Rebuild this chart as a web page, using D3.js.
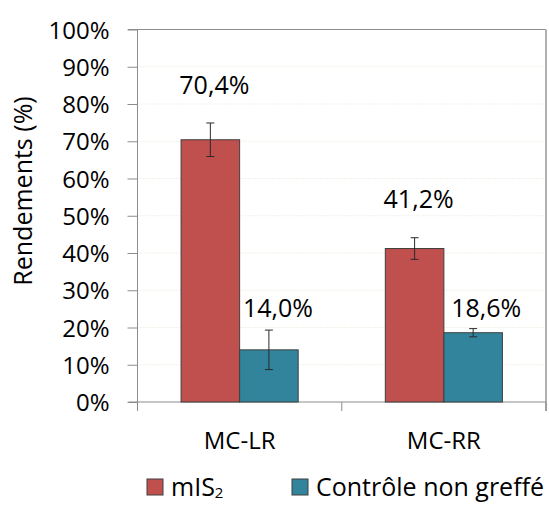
<!DOCTYPE html>
<html><head><meta charset="utf-8">
<script src="https://cdn.jsdelivr.net/npm/d3@7"></script>
<style>
body{margin:0;background:#fff;}
text{font-family:"Open Sans",sans-serif;fill:#000;}
</style></head>
<body><svg id="c" width="549" height="505"></svg>
<script>
const categories = ["MC-LR", "MC-RR"];
const series = ["mIS2", "Contrôle non greffé"];
const seriesLabels = ["mIS", "Contrôle non greffé"];
const valuesMIS = [70.4, 41.2];
const valuesCtrl = [14.0, 18.6];
const errMIS = [4.5, 2.9];
const errCtrl = [5.3, 1.1];
const labelsMIS = ["70,4%", "41,2%"];
const labelsCtrl = ["14,0%", "18,6%"];
const yTicks = [0,10,20,30,40,50,60,70,80,90,100];
// manual label anchor (value in %, horizontal shift px) as in original
const labelAtMIS = [82.7, 52.1];
const labelAtCtrl = [22.9, 22.9];
const labelShiftMIS = [4, 4];
const labelShiftCtrl = [9, 13];
const colors = ["#c0504d", "#31849b"];

(function(){
const svg = d3.select("#c");
const pLeft = 137.5, pRight = 546, pTop = 29.5, pBottom = 402;
const y = d3.scaleLinear().domain([0,100]).range([pBottom, pTop]);
const x = d3.scaleBand().domain(categories).range([pLeft, pRight]);
const xs = d3.scaleBand().domain(series).range([0, x.bandwidth()]).paddingOuter(0.744);

// gridlines
svg.append("g").selectAll("line").data(yTicks.filter(d=>d>0)).join("line")
  .attr("x1", pLeft).attr("x2", pRight).attr("y1", d=>y(d)).attr("y2", d=>y(d))
  .attr("stroke", "#e6e3cf").attr("stroke-width", 1).attr("stroke-dasharray", "1,2");

// frame top/right
svg.append("line").attr("x1", 128).attr("x2", pRight).attr("y1", pTop).attr("y2", pTop)
  .attr("stroke", "#8c8c8c").attr("stroke-width", 1);
svg.append("line").attr("x1", pRight).attr("x2", pRight).attr("y1", pTop).attr("y2", 411)
  .attr("stroke", "#b0b0b0").attr("stroke-width", 2);

// y axis
const yAxis = svg.append("g").attr("transform", `translate(${pLeft},0)`)
  .call(d3.axisLeft(y).tickValues(yTicks).tickFormat(d=>d+"%").tickSize(10).tickPadding(8).tickSizeOuter(0));
yAxis.select(".domain").attr("stroke", "#8c8c8c").attr("d", `M0,${pTop}V${pBottom+9}`);
yAxis.selectAll(".tick line").attr("stroke", "#8c8c8c");
yAxis.selectAll("text").attr("font-size", 24).attr("font-family", "Open Sans").attr("fill", "#000").attr("dy", "0.36em").attr("x", -28);

// x axis
const xAxis = svg.append("g").attr("transform", `translate(0,${pBottom})`)
  .call(d3.axisBottom(x).tickSize(0).tickPadding(0));
xAxis.select(".domain").attr("stroke", "#8c8c8c").attr("d", `M${pLeft-9},0H${pRight}`);
xAxis.selectAll(".tick text").attr("font-size", 24).attr("font-family", "Open Sans").attr("fill", "#000").attr("y", 47).attr("dy", 0);
// category separator ticks
svg.append("g").selectAll("line").data(categories.map(c=>x(c)).concat([pRight])).join("line")
  .attr("x1", d=>d).attr("x2", d=>d).attr("y1", pBottom).attr("y2", 411)
  .attr("stroke", "#8c8c8c");

// bars
const allVals = [valuesMIS, valuesCtrl];
const allErr = [errMIS, errCtrl];
const allLabels = [labelsMIS, labelsCtrl];
const allLabelAt = [labelAtMIS, labelAtCtrl];
const allShift = [labelShiftMIS, labelShiftCtrl];
series.forEach((s, si) => {
  const g = svg.append("g");
  const data = categories.map((c, i) => ({c, v: allVals[si][i], e: allErr[si][i], l: allLabels[si][i], la: allLabelAt[si][i], sh: allShift[si][i]}));
  g.selectAll("rect").data(data).join("rect")
    .attr("x", d=>x(d.c)+xs(s)).attr("width", xs.bandwidth())
    .attr("y", d=>y(d.v)).attr("height", d=>y(0)-y(d.v))
    .attr("fill", colors[si]).attr("stroke", "#3f3f3f").attr("stroke-width", 1);
  const cx = d=>x(d.c)+xs(s)+xs.bandwidth()/2;
  g.selectAll("line.err").data(data).join("line").attr("class","err")
    .attr("x1", cx).attr("x2", cx).attr("y1", d=>y(d.v+d.e)).attr("y2", d=>y(d.v-d.e))
    .attr("stroke", "#2a2a2a").attr("stroke-width", 1);
  [1,-1].forEach(sg => {
    g.selectAll("line.cap"+(sg>0?"p":"m")).data(data).join("line").attr("class","cap"+(sg>0?"p":"m"))
      .attr("x1", d=>cx(d)-4).attr("x2", d=>cx(d)+4)
      .attr("y1", d=>y(d.v+sg*d.e)).attr("y2", d=>y(d.v+sg*d.e))
      .attr("stroke", "#2a2a2a").attr("stroke-width", 1);
  });
  g.selectAll("text").data(data).join("text")
    .attr("x", d=>cx(d)+d.sh).attr("y", d=>y(d.la))
    .attr("text-anchor", "middle").attr("font-size", 25).text(d=>d.l);
});

// y title
svg.append("text").attr("transform", "translate(32,191) rotate(-90)")
  .attr("text-anchor", "middle").attr("font-size", 25).text("Rendements (%)");

// legend
const legX = [147, 292];
series.forEach((s, si) => {
  svg.append("rect").attr("x", legX[si]).attr("y", 479).attr("width", 16).attr("height", 16)
    .attr("fill", colors[si]).attr("stroke", "#3f3f3f").attr("stroke-width", 1);
  const t = svg.append("text").attr("x", legX[si] + 24).attr("y", 496).attr("font-size", 25).text(seriesLabels[si]);
  if (si === 0) t.append("tspan").attr("font-size", 15).attr("dy", 2).text("2");
});
})();
</script></body></html>
